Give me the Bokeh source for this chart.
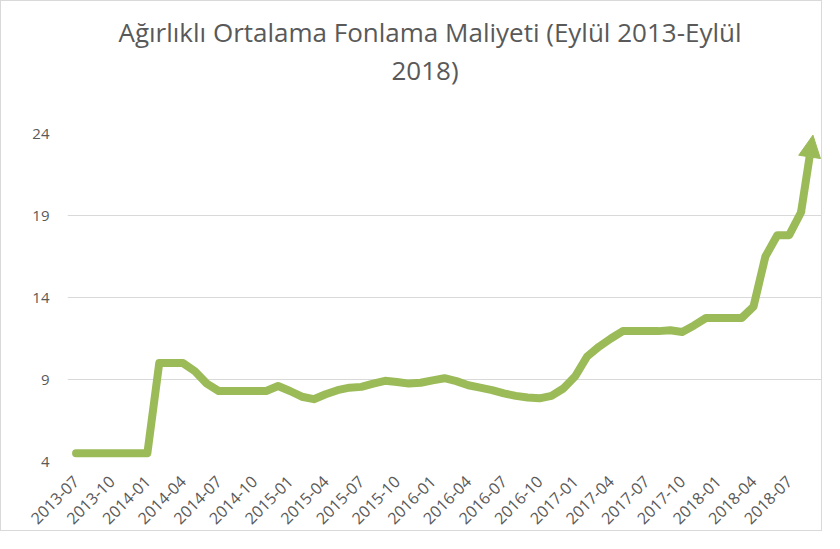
import math
from bokeh.plotting import figure
from bokeh.models import Range1d, FixedTicker, Title, Arrow, NormalHead, ColumnDataSource
from bokeh.embed import file_html
from bokeh.resources import INLINE

months = [
    "2013-07", "2013-08", "2013-09", "2013-10", "2013-11", "2013-12",
    "2014-01", "2014-02", "2014-03", "2014-04", "2014-05", "2014-06",
    "2014-07", "2014-08", "2014-09", "2014-10", "2014-11", "2014-12",
    "2015-01", "2015-02", "2015-03", "2015-04", "2015-05", "2015-06",
    "2015-07", "2015-08", "2015-09", "2015-10", "2015-11", "2015-12",
    "2016-01", "2016-02", "2016-03", "2016-04", "2016-05", "2016-06",
    "2016-07", "2016-08", "2016-09", "2016-10", "2016-11", "2016-12",
    "2017-01", "2017-02", "2017-03", "2017-04", "2017-05", "2017-06",
    "2017-07", "2017-08", "2017-09", "2017-10", "2017-11", "2017-12",
    "2018-01", "2018-02", "2018-03", "2018-04", "2018-05", "2018-06",
    "2018-07", "2018-08", "2018-09",
]

cost = [
    4.5, 4.5, 4.5, 4.5, 4.5, 4.5,
    4.5, 10.0, 10.0, 10.0, 9.5, 8.75,
    8.3, 8.3, 8.3, 8.3, 8.3, 8.6,
    8.3, 7.95, 7.8, 8.1, 8.35, 8.5,
    8.55, 8.75, 8.92, 8.85, 8.75, 8.8,
    8.95, 9.08, 8.9, 8.65, 8.5, 8.35,
    8.15, 8.0, 7.9, 7.85, 8.0, 8.45,
    9.2, 10.4, 11.0, 11.5, 11.95, 11.95,
    11.95, 11.95, 12.0, 11.9, 12.3, 12.75,
    12.75, 12.75, 12.75, 13.45, 16.5, 17.8,
    17.8, 19.2, 23.9,
]

tick_labels = [
    "2013-07", "2013-10", "2014-01", "2014-04", "2014-07", "2014-10",
    "2015-01", "2015-04", "2015-07", "2015-10", "2016-01", "2016-04",
    "2016-07", "2016-10", "2017-01", "2017-04", "2017-07", "2017-10",
    "2018-01", "2018-04", "2018-07",
]

y_ticks = [4, 9, 14, 19, 24]

title_line1 = "Ağırlıklı Ortalama Fonlama Maliyeti (Eylül 2013-Eylül"
title_line2 = "2018)"

GREEN = "#9BBB59"
GRAY_TEXT = "#595959"
GRID = "#D9D9D9"
FONT = "Open Sans"

idx = list(range(len(months)))
tick_idx = [months.index(t) for t in tick_labels]

p = figure(
    width=822, height=531,
    x_range=Range1d(-0.72, 62.72),
    y_range=Range1d(y_ticks[0], y_ticks[-1]),
    output_backend="svg", toolbar_location=None,
    min_border_left=66, min_border_right=2,
    min_border_top=132, min_border_bottom=69,
    styles={"border": "1px solid #D9D9D9"},
)
p.outline_line_color = None
p.background_fill_color = "white"
p.border_fill_color = "white"

# spacer between plot frame and the two-line title
spacer = Title(text=" ", align="left", standoff=14,
               text_font=FONT, text_font_size="22px", text_color="white")
p.add_layout(spacer, "above")
t2 = Title(text=title_line2, align="left", offset=324, standoff=0,
           text_font=FONT, text_font_size="26px", text_color=GRAY_TEXT,
           text_font_style="normal")
p.add_layout(t2, "above")
t1 = Title(text=title_line1, align="left", offset=51, standoff=0,
           text_font=FONT, text_font_size="26px", text_color=GRAY_TEXT,
           text_font_style="normal")
p.add_layout(t1, "above")

src = ColumnDataSource(dict(x=idx[:-1], y=cost[:-1]))
p.line("x", "y", source=src, line_color=GREEN, line_width=8,
       line_join="round", line_cap="round")

arrow = Arrow(
    x_start=idx[-2], y_start=cost[-2], x_end=idx[-1], y_end=cost[-1],
    line_color=GREEN, line_width=8,
    end=NormalHead(size=22, fill_color=GREEN, line_color=GREEN, line_width=1),
)
p.add_layout(arrow)

p.xgrid.grid_line_color = None
p.ygrid.grid_line_color = GRID
p.ygrid.grid_line_width = 1

p.yaxis.ticker = FixedTicker(ticks=y_ticks)
p.yaxis.axis_line_color = None
p.yaxis.major_tick_line_color = None
p.yaxis.minor_tick_line_color = None
p.yaxis.major_label_standoff = 12
p.yaxis.major_label_text_font = FONT
p.yaxis.major_label_text_font_size = "15px"
p.yaxis.major_label_text_color = GRAY_TEXT

p.xaxis.ticker = FixedTicker(ticks=tick_idx)
p.xaxis.major_label_overrides = {i: lab for i, lab in zip(tick_idx, tick_labels)}
p.xaxis.major_label_orientation = math.pi / 4
p.xaxis.axis_line_color = None
p.xaxis.major_tick_line_color = None
p.xaxis.minor_tick_line_color = None
p.xaxis.major_label_standoff = 11
p.xaxis.major_label_text_font = FONT
p.xaxis.major_label_text_font_size = "16px"
p.xaxis.major_label_text_color = GRAY_TEXT

open("out.html", "w").write(file_html(p, INLINE))
